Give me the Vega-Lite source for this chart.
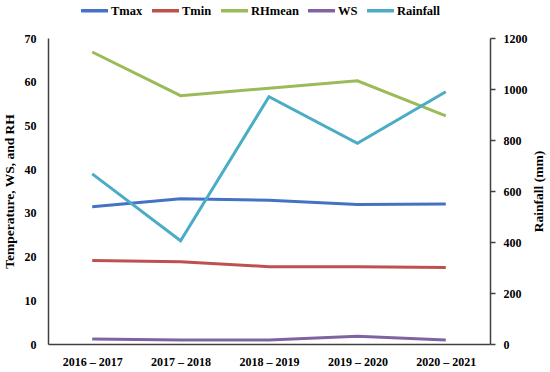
{
  "$schema": "https://vega.github.io/schema/vega-lite/v6.json",
  "width": 442,
  "height": 306,
  "autosize": "none",
  "padding": {"left": 48, "top": 38, "right": 60, "bottom": 28},
  "background": "white",
  "config": {
    "view": {"stroke": null},
    "font": "Liberation Serif",
    "axis": {"labelFont": "Liberation Serif", "titleFont": "Liberation Serif", "labelFontWeight": "bold", "titleFontWeight": "bold", "labelFontSize": 12, "titleFontSize": 13.5, "labelColor": "#000", "titleColor": "#000", "domainColor": "#404040", "domainWidth": 1.5, "grid": false, "tickColor": "#404040", "tickWidth": 1.5}
  },
  "data": {
    "values": [
      {"year": "2016 – 2017", "Tmax": 31.4, "Tmin": 19.1, "RHmean": 66.8, "WS": 1.15, "Rainfall": 667},
      {"year": "2017 – 2018", "Tmax": 33.2, "Tmin": 18.8, "RHmean": 56.8, "WS": 0.9, "Rainfall": 405},
      {"year": "2018 – 2019", "Tmax": 32.9, "Tmin": 17.7, "RHmean": 58.5, "WS": 0.9, "Rainfall": 970},
      {"year": "2019 – 2020", "Tmax": 31.9, "Tmin": 17.7, "RHmean": 60.2, "WS": 1.75, "Rainfall": 787},
      {"year": "2020 – 2021", "Tmax": 32.0, "Tmin": 17.5, "RHmean": 52.2, "WS": 0.9, "Rainfall": 989}
    ]
  },
  "encoding": {
    "x": {"field": "year", "type": "ordinal", "scale": {"type": "point", "padding": 0.5}, "axis": {"title": null, "labelAngle": 0, "ticks": false, "labelPadding": 12}},
    "color": {"field": "key", "type": "nominal", "scale": {"domain": ["Tmax", "Tmin", "RHmean", "WS", "Rainfall"], "range": ["#4472C4", "#C0504D", "#9BBB59", "#8064A2", "#4BACC6"]},
      "legend": {"title": null, "orient": "none", "legendX": 31, "legendY": -43, "direction": "horizontal", "symbolType": "stroke", "symbolStrokeWidth": 3.5, "symbolSize": 729, "labelOffset": 1, "labelFont": "Liberation Serif", "labelFontWeight": "bold", "labelFontSize": 12.5, "labelColor": "#000", "columnPadding": 2}}
  },
  "layer": [
    {
      "transform": [{"fold": ["Tmax", "Tmin", "RHmean", "WS"], "as": ["key", "value"]}],
      "mark": {"type": "line", "strokeWidth": 3},
      "encoding": {
        "y": {"field": "value", "type": "quantitative", "scale": {"domain": [0, 70]}, "axis": {"title": "Temperature, WS, and RH", "ticks": false, "values": [0, 10, 20, 30, 40, 50, 60, 70], "labelPadding": 12, "titlePadding": 8}}
      }
    },
    {
      "transform": [{"fold": ["Rainfall"], "as": ["key", "value"]}],
      "mark": {"type": "line", "strokeWidth": 3},
      "encoding": {
        "y": {"field": "value", "type": "quantitative", "scale": {"domain": [0, 1200]}, "axis": {"orient": "right", "title": "Rainfall (mm)", "titleAngle": -90, "format": "d", "values": [0, 200, 400, 600, 800, 1000, 1200], "tickSize": 5, "labelPadding": 8, "titlePadding": 18}}
      }
    }
  ],
  "resolve": {"scale": {"y": "independent"}}
}
